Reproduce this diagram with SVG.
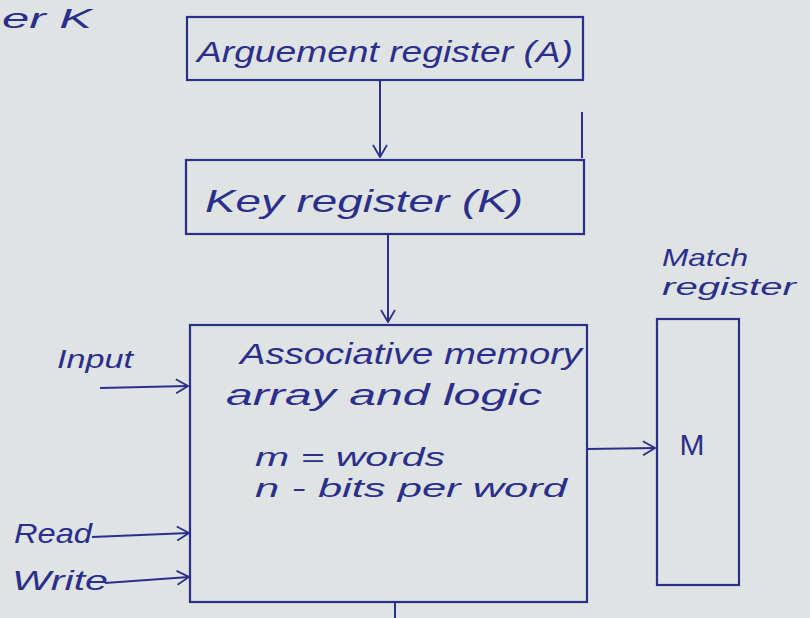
<svg xmlns="http://www.w3.org/2000/svg" width="810" height="618" viewBox="0 0 810 618">
<defs>
<marker id="arr" viewBox="0 0 14 16" refX="13" refY="8" markerWidth="14" markerHeight="16" markerUnits="userSpaceOnUse" orient="auto">
<path d="M1,1 L13,8 L1,15" fill="none" stroke="#2b2f8c" stroke-width="1.8"/>
</marker>
<style>
.box{fill:none;stroke:#2b2f8c;stroke-width:2.2}
.ln{fill:none;stroke:#2b2f8c;stroke-width:2}
.t{font-family:"Liberation Sans",Arial,sans-serif;font-style:italic;fill:#2b2f8c}
</style>
</defs>
<rect width="810" height="618" fill="#dfe3e3"/>
<text class="t" x="2" y="28" font-size="28" textLength="90" lengthAdjust="spacingAndGlyphs">er K</text>

<g id="arg-register">
<rect class="box" x="187" y="17" width="396" height="63"/>
<text class="t" x="197" y="62" font-size="30" textLength="376" lengthAdjust="spacingAndGlyphs">Arguement register (A)</text>
</g>

<g id="key-register">
<rect class="box" x="186" y="160" width="398" height="74"/>
<text class="t" x="205" y="212" font-size="32" textLength="318" lengthAdjust="spacingAndGlyphs">Key register (K)</text>
</g>

<g id="assoc-memory">
<rect class="box" x="190" y="325" width="397" height="277"/>
<text class="t" x="240" y="364" font-size="29" textLength="342" lengthAdjust="spacingAndGlyphs">Associative memory</text>
<text class="t" x="226" y="405" font-size="29" textLength="316" lengthAdjust="spacingAndGlyphs">array and logic</text>
<text class="t" x="255" y="466" font-size="26" textLength="190" lengthAdjust="spacingAndGlyphs">m = words</text>
<text class="t" x="255" y="497" font-size="26" textLength="312" lengthAdjust="spacingAndGlyphs">n - bits per word</text>
</g>

<g id="match-register">
<text class="t" x="662" y="266" font-size="24" textLength="86" lengthAdjust="spacingAndGlyphs">Match</text>
<text class="t" x="662" y="295" font-size="24" textLength="134" lengthAdjust="spacingAndGlyphs">register</text>
<rect class="box" x="657" y="319" width="82" height="266"/>
<text x="692" y="455" font-size="30" font-family="Liberation Sans, Arial, sans-serif" fill="#2b2f8c" text-anchor="middle">M</text>
</g>

<g id="labels">
<text class="t" x="57" y="368" font-size="25" textLength="76" lengthAdjust="spacingAndGlyphs">Input</text>
<text class="t" x="14" y="543" font-size="28" textLength="78" lengthAdjust="spacingAndGlyphs">Read</text>
<text class="t" x="12" y="590" font-size="28" textLength="96" lengthAdjust="spacingAndGlyphs">Write</text>
</g>

<g id="connectors">
<line class="ln" x1="380" y1="80" x2="380" y2="157" marker-end="url(#arr)"/>
<line class="ln" x1="388" y1="234" x2="388" y2="322" marker-end="url(#arr)"/>
<line class="ln" x1="100" y1="388" x2="188" y2="386" marker-end="url(#arr)"/>
<line class="ln" x1="92" y1="537" x2="189" y2="533" marker-end="url(#arr)"/>
<line class="ln" x1="105" y1="583" x2="189" y2="577" marker-end="url(#arr)"/>
<line class="ln" x1="587" y1="449" x2="655" y2="448" marker-end="url(#arr)"/>
<line class="ln" x1="395" y1="602" x2="395" y2="618"/>
<line class="ln" x1="582" y1="112" x2="582" y2="158"/>
</g>
</svg>
